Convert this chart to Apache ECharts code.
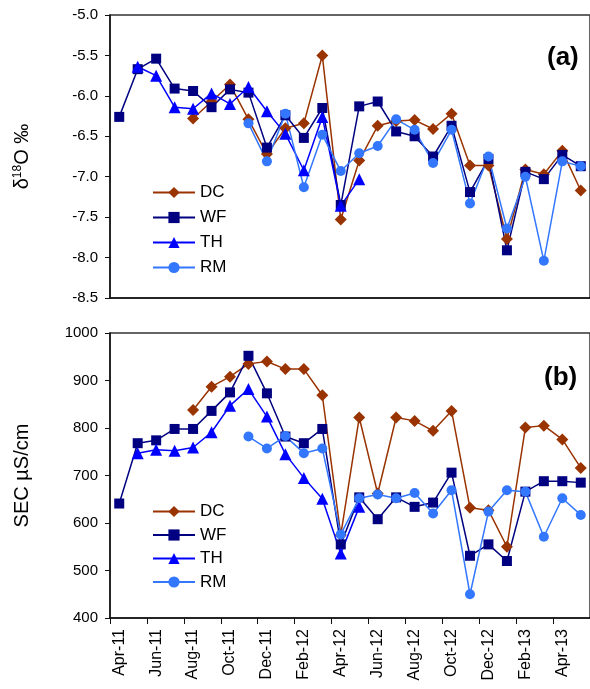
<!DOCTYPE html>
<html>
<head>
<meta charset="utf-8">
<title>d18O and SEC</title>
<script src="https://cdn.jsdelivr.net/npm/echarts@6/dist/echarts.min.js"></script>
<style>
  html, body { margin: 0; padding: 0; background: #fff; }
  #chart { width: 590px; height: 689px; }
</style>
</head>
<body>
<div id="chart"></div>
<script>
const months = ['Apr-11', 'May-11', 'Jun-11', 'Jul-11', 'Aug-11', 'Sep-11', 'Oct-11', 'Nov-11', 'Dec-11',
  'Jan-12', 'Feb-12', 'Mar-12', 'Apr-12', 'May-12', 'Jun-12', 'Jul-12', 'Aug-12', 'Sep-12', 'Oct-12',
  'Nov-12', 'Dec-12', 'Jan-13', 'Feb-13', 'Mar-13', 'Apr-13', 'May-13']

// (a) delta 18O, per mil
const dcO = [null, null, null, null, -6.28, -6.07, -5.86, -6.29, -6.72, -6.40, -6.34, -5.50, -7.53, -6.80,
  -6.37, -6.31, -6.30, -6.41, -6.22, -6.86, -6.86, -7.77, -6.91, -6.97, -6.68, -7.17]
const wfO = [-6.26, -5.67, -5.54, -5.91, -5.94, -6.14, -5.92, -5.96, -6.64, -6.24, -6.52, -6.15, -7.35, -6.13,
  -6.07, -6.44, -6.50, -6.75, -6.37, -7.19, -6.78, -7.91, -6.94, -7.03, -6.73, -6.87]
const thO = [null, -5.64, -5.75, -6.14, -6.16, -5.97, -6.10, -5.89, -6.19, -6.47, -6.92, -6.26, -7.36, -7.03,
  null, null, null, null, null, null, null, null, null, null, null, null]
const rmO = [null, null, null, null, null, null, null, -6.34, -6.81, -6.22, -7.13, -6.48, -6.93, -6.71,
  -6.62, -6.29, -6.42, -6.83, -6.42, -7.33, -6.75, -7.64, -7.00, -8.04, -6.81, -6.87]

// (b) SEC, uS/cm
const dcS = [null, null, null, null, 838, 887, 908, 935, 940, 924, 924, 869, 575, 822,
  662, 822, 815, 794, 836, 632, 627, 550, 801, 805, 776, 716]
const wfS = [641, 768, 774, 798, 798, 836, 875, 952, 873, 782, 768, 798, 555, 654,
  608, 654, 634, 643, 706, 531, 555, 520, 666, 688, 688, 685]
const thS = [null, 747, 754, 752, 759, 791, 847, 882, 824, 745, 695, 651, 536, 634,
  null, null, null, null, null, null, null, null, null, null, null, null]
const rmS = [null, null, null, null, null, null, null, 782, 757, 783, 747, 757, 576, 652,
  660, 652, 663, 620, 669, 450, 624, 669, 666, 571, 652, 617]

const font = '"Liberation Sans", Arial, sans-serif'
const sites = [
  { name: 'DC', color: '#993300', symbol: 'diamond', size: 12 },
  { name: 'WF', color: '#000080', symbol: 'rect', size: 10 },
  { name: 'TH', color: '#0000ff', symbol: 'triangle', size: 12 },
  { name: 'RM', color: '#3377ff', symbol: 'circle', size: 10 }
]

function makeSeries(s, data, idx) {
  return {
    name: s.name,
    type: 'line',
    xAxisIndex: idx,
    yAxisIndex: idx,
    data: data,
    symbol: s.symbol,
    symbolSize: s.size,
    showAllSymbol: true,
    connectNulls: false,
    animation: false,
    itemStyle: { color: s.color },
    lineStyle: { color: s.color, width: 1.5 }
  }
}

function xAxis(idx, showLabels) {
  return {
    type: 'category',
    gridIndex: idx,
    data: months,
    boundaryGap: true,
    axisLine: { lineStyle: { color: '#111', width: 1.5 } },
    axisTick: { show: showLabels, interval: 1, length: 6, lineStyle: { color: '#111' } },
    axisLabel: {
      show: showLabels, interval: 1, rotate: 90, margin: 11,
      color: '#000', fontSize: 16, fontFamily: font
    },
    splitLine: { show: false }
  }
}

function legend(top, gap) {
  return {
    orient: 'vertical',
    left: 152,
    top: top,
    padding: 0,
    itemWidth: 42,
    itemHeight: 14,
    itemGap: gap,
    data: ['DC', 'WF', 'TH', 'RM'],
    textStyle: { color: '#000', fontSize: 17, fontFamily: font }
  }
}

const chart = echarts.init(document.getElementById('chart'))

chart.setOption({
  backgroundColor: '#fff',
  title: [
    { text: '(a)', left: 542, top: 40, textStyle: { fontSize: 26, fontWeight: 'bold', fontFamily: font, color: '#000' } },
    { text: '(b)', left: 539, top: 360, textStyle: { fontSize: 26, fontWeight: 'bold', fontFamily: font, color: '#000' } }
  ],
  legend: [legend(184, 8), legend(503, 6.5)],
  grid: [
    { left: 110, right: -6, top: 15, height: 283, show: true, borderColor: '#333', borderWidth: 1.5 },
    { left: 110, right: -6, top: 333, height: 285, show: true, borderColor: '#333', borderWidth: 1.5 }
  ],
  xAxis: [xAxis(0, false), xAxis(1, true)],
  yAxis: [
    {
      type: 'value',
      gridIndex: 0,
      min: -8.5,
      max: -5,
      interval: 0.5,
      name: '{t|δ}{s|18}{t|O ‰}',
      nameLocation: 'middle',
      nameGap: 78,
      nameTextStyle: {
        rich: {
          t: { fontSize: 20, fontFamily: font, color: '#000' },
          s: { fontSize: 12, fontFamily: font, color: '#000', verticalAlign: 'top', padding: [0, 0, 8, 0] }
        }
      },
      axisLine: { show: true, lineStyle: { color: '#111', width: 1.5 } },
      axisTick: { show: true, length: 5, lineStyle: { color: '#111' } },
      axisLabel: { margin: 12, color: '#000', fontSize: 15, fontFamily: font, formatter: v => v.toFixed(1) },
      splitLine: { show: false }
    },
    {
      type: 'value',
      gridIndex: 1,
      min: 400,
      max: 1000,
      interval: 100,
      name: 'SEC µS/cm',
      nameLocation: 'middle',
      nameGap: 78,
      nameTextStyle: { fontSize: 20, fontFamily: font, color: '#000' },
      axisLine: { show: true, lineStyle: { color: '#111', width: 1.5 } },
      axisTick: { show: true, length: 5, lineStyle: { color: '#111' } },
      axisLabel: { margin: 12, color: '#000', fontSize: 15, fontFamily: font, formatter: v => String(v) },
      splitLine: { show: false }
    }
  ],
  series: [
    makeSeries(sites[0], dcO, 0),
    makeSeries(sites[1], wfO, 0),
    makeSeries(sites[2], thO, 0),
    makeSeries(sites[3], rmO, 0),
    makeSeries(sites[0], dcS, 1),
    makeSeries(sites[1], wfS, 1),
    makeSeries(sites[2], thS, 1),
    makeSeries(sites[3], rmS, 1)
  ]
})
</script>
</body>
</html>
